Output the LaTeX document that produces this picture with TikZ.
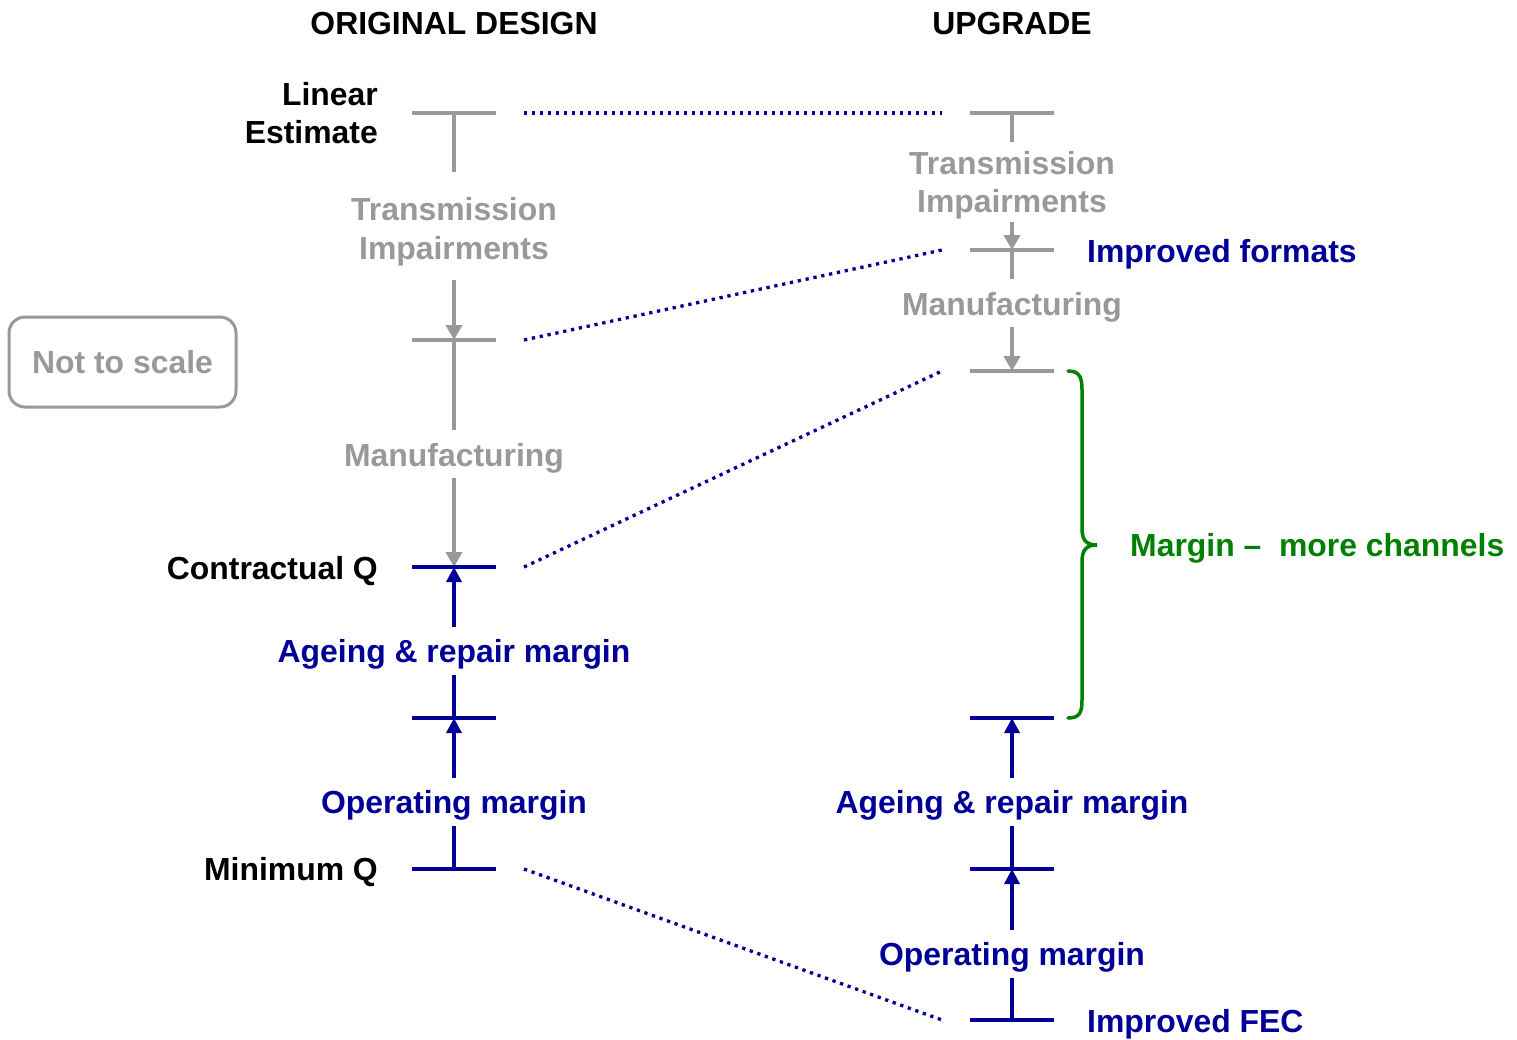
\documentclass[tikz,border=0pt]{standalone}
\usepackage{fontspec}
\setmainfont{Liberation Sans}
\usetikzlibrary{arrows.meta}
\definecolor{cgray}{HTML}{999999}
\definecolor{cblue}{HTML}{000099}
\definecolor{cgreen}{HTML}{008000}
\begin{document}
\begin{tikzpicture}[x=1pt,y=-1pt,
  lbl/.style={font=\fontsize{31.9}{38.5}\selectfont\bfseries, inner sep=0pt},
  gline/.style={draw=cgray, line width=4pt},
  bline/.style={draw=cblue, line width=3.5pt},
  garr/.style={gline, -{Triangle[width=16pt,length=15pt]}},
  barr/.style={bline, -{Triangle[width=15pt,length=15pt]}},
  dotline/.style={draw=cblue, line width=3.3pt, dash pattern=on 3.3pt off 4.7pt},
  gbar/.style={gline},
  bbar/.style={bline},
]
\useasboundingbox (0,0) rectangle (1517,1039);

% ---------- headings ----------
\node[lbl, anchor=base] (h1) at (454,34) {ORIGINAL DESIGN};
\node[lbl, anchor=base] (h2) at (1012,34) {UPGRADE};

% ---------- left column coordinates ----------
\coordinate (L1) at (454,113);
\coordinate (L2) at (454,340);
\coordinate (L3) at (454,567);
\coordinate (L4) at (454,718);
\coordinate (L5) at (454,869);
% ---------- right column coordinates ----------
\coordinate (R1) at (1012,113);
\coordinate (R2) at (1012,250);
\coordinate (R3) at (1012,371);
\coordinate (R4) at (1012,718);
\coordinate (R5) at (1012,869);
\coordinate (R6) at (1012,1020);

% ---------- left labels ----------
\node[lbl, anchor=base east] (le1) at (378,105) {Linear};
\node[lbl, anchor=base east] (le2) at (378,143) {Estimate};
\node[lbl, anchor=base east] (cq) at (378,579) {Contractual Q};
\node[lbl, anchor=base east] (mq) at (378,880) {Minimum Q};

\node[lbl, text=cgray, anchor=base] (tiL1) at (454,220) {Transmission};
\node[lbl, text=cgray, anchor=base] (tiL2) at (454,259) {Impairments};
\node[lbl, text=cgray, anchor=base] (mfL) at (454,466) {Manufacturing};
\node[lbl, text=cblue, anchor=base] (agL) at (454,662) {Ageing \& repair margin};
\node[lbl, text=cblue, anchor=base] (opL) at (454,813) {Operating margin};

% ---------- right labels ----------
\node[lbl, text=cgray, anchor=base] (tiR1) at (1012,174) {Transmission};
\node[lbl, text=cgray, anchor=base] (tiR2) at (1012,212) {Impairments};
\node[lbl, text=cgray, anchor=base] (mfR) at (1012,315) {Manufacturing};
\node[lbl, text=cblue, anchor=base] (agR) at (1012,813) {Ageing \& repair margin};
\node[lbl, text=cblue, anchor=base] (opR) at (1012,965) {Operating margin};

\node[lbl, text=cblue, anchor=base west] (imf) at (1087,262) {Improved formats};
\node[lbl, text=cblue, anchor=base west] (ifec) at (1087,1032) {Improved FEC};
\node[lbl, text=cgreen, anchor=base west] (mg) at (1130,556) {Margin \textendash\ \ more channels};

% ---------- not to scale box ----------
\node[lbl, text=cgray, draw=cgray, line width=3pt, rounded corners=16pt,
      minimum width=227pt, minimum height=90pt] (nts) at (122.5,362) {Not to scale};

% ---------- left column lines ----------
\draw[gline] (L1) -- ([yshift=-59pt]L1);
\draw[garr] ([yshift=60pt]L2) -- (L2);
\draw[gline] (L2) -- ([yshift=-90pt]L2);
\draw[garr] ([yshift=89pt]L3) -- (L3);
\draw[barr] ([yshift=-60pt]L3) -- (L3);
\draw[bline] ([yshift=43pt]L4) -- (L4);
\draw[barr] ([yshift=-60pt]L4) -- (L4);
\draw[bline] ([yshift=43pt]L5) -- (L5);

\draw[gbar] ([xshift=-42pt]L1) -- ([xshift=42pt]L1);
\draw[gbar] ([xshift=-42pt]L2) -- ([xshift=42pt]L2);
\draw[bbar] ([xshift=-42pt]L3) -- ([xshift=42pt]L3);
\draw[bbar] ([xshift=-42pt]L4) -- ([xshift=42pt]L4);
\draw[bbar] ([xshift=-42pt]L5) -- ([xshift=42pt]L5);

% ---------- right column lines ----------
\draw[gline] (R1) -- ([yshift=-29pt]R1);
\draw[garr] ([yshift=28pt]R2) -- (R2);
\draw[gline] (R2) -- ([yshift=-29pt]R2);
\draw[garr] ([yshift=44pt]R3) -- (R3);
\draw[barr] ([yshift=-60pt]R4) -- (R4);
\draw[bline] ([yshift=43pt]R5) -- (R5);
\draw[barr] ([yshift=-61pt]R5) -- (R5);
\draw[bline] ([yshift=42pt]R6) -- (R6);

\draw[gbar] ([xshift=-42pt]R1) -- ([xshift=42pt]R1);
\draw[gbar] ([xshift=-42pt]R2) -- ([xshift=42pt]R2);
\draw[gbar] ([xshift=-42pt]R3) -- ([xshift=42pt]R3);
\draw[bbar] ([xshift=-42pt]R4) -- ([xshift=42pt]R4);
\draw[bbar] ([xshift=-42pt]R5) -- ([xshift=42pt]R5);
\draw[bbar] ([xshift=-42pt]R6) -- ([xshift=42pt]R6);

% ---------- dotted links ----------
\draw[dotline] ([xshift=70pt]L1) -- ([xshift=-70pt]R1);
\draw[dotline] ([xshift=70pt]L2) -- ([xshift=-70pt]R2);
\draw[dotline] ([xshift=70pt]L3) -- ([xshift=-70pt]R3);
\draw[dotline] ([xshift=70pt]L5) -- ([xshift=-70pt]R6);

% ---------- brace ----------
\draw[cgreen, line width=3.5pt, line cap=round]
  ([xshift=56pt]R3) .. controls (1080,371) and (1082,378) .. (1082,390)
  -- (1082,528) .. controls (1082,540) and (1086,545) .. (1097,545)
  .. controls (1086,545) and (1082,550) .. (1082,562)
  -- (1082,700) .. controls (1082,712) and (1080,718) .. ([xshift=56pt]R4);
\end{tikzpicture}
\end{document}
